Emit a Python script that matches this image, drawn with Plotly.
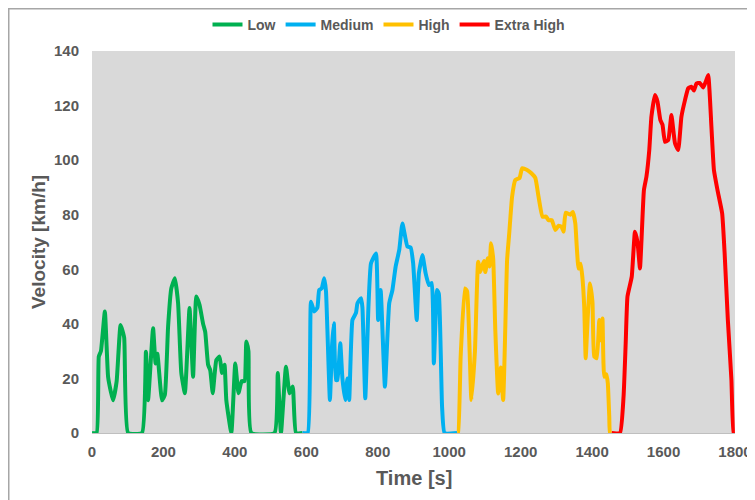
import plotly.graph_objects as go

# Low phase
low_t = [0, 13, 19, 25, 36, 45, 53, 59, 69, 80, 90, 101, 140, 151, 157, 171, 178, 183, 196, 204, 213, 222, 232, 241, 250, 260,
         273, 283, 292, 301, 311, 317, 325, 331, 338, 348, 357, 364, 371, 376, 390, 401, 410, 419, 427, 432, 438, 446, 511,
         520, 529, 543, 553, 562, 571, 589]
low_v = [0, 0, 28, 30, 44.5, 20.6, 15, 12, 19, 39.6, 35, 0, 0, 29.8, 12, 38.4, 25.5, 29, 12, 14, 39, 53, 56.7, 47.6, 22, 14.6,
         45.8, 20.6, 50, 47, 40, 37, 25, 23, 14.6, 26.7, 28, 22, 25, 12, 0, 25.5, 14.6, 19, 19, 33.5, 30, 0, 0,
         22, 0, 24.3, 14.6, 17, 0, 0]

# Medium phase
med_t = [589, 604, 613, 622, 631, 636, 643, 650, 655, 659, 666, 672, 677, 683, 687, 695, 701, 709, 715, 720, 729, 739, 743,
         753, 757, 765, 774, 781, 795, 801, 808, 820, 832, 841, 850, 860, 869, 883, 892, 899, 909, 915, 925, 934, 943, 951,
         957, 966, 971, 980, 987, 1022]
med_v = [0, 0, 48.1, 44.5, 46, 52.4, 53, 56.7, 52, 37.7, 12.1, 32, 40.2, 19.4, 19.4, 32.9, 20, 12.1, 20, 12.1, 41.4, 44, 47.5,
         49.4, 46, 12.7, 46.7, 62.2, 65.8, 41.4, 52.4, 17, 47.5, 52.4, 61, 67, 76.8, 68.3, 68, 62.2, 41.4, 58.5, 65.2, 58.5,
         54.2, 55, 25.5, 52.4, 51, 9.6, 0, 0]

# High phase
high_t = [1022, 1025, 1032, 1044, 1050, 1057, 1062, 1072, 1081, 1087, 1097, 1101, 1108, 1113, 1117, 1123, 1129, 1137, 1144,
          1151, 1162, 1168, 1176, 1185, 1197, 1204, 1218, 1230, 1241, 1250, 1261, 1271, 1278, 1287, 1297, 1306, 1315, 1320,
          1326, 1339, 1346, 1353, 1357, 1362, 1368, 1373, 1378, 1382, 1388, 1394, 1401, 1406, 1413, 1420, 1424, 1429, 1434,
          1440, 1444, 1448, 1450, 1455]
high_v = [0, 0, 28, 53, 52, 30.4, 12.1, 30, 62.8, 59, 63, 59, 64, 61, 69.5, 64, 37.7, 14.5, 24,
          12.1, 63.4, 73.2, 86.6, 92.7, 93.5, 97, 96.4, 95.2, 93.5, 86.6, 79.3, 79.3, 78, 78, 74.4, 76, 75.5, 73.8,
          80.7, 80, 81, 76.8, 68.3, 60.3, 62, 56.7, 46, 27.4, 43, 54.8, 48, 28, 27.4, 41.4, 34, 42, 20.6,
          21.5, 18.2, 6, 0, 0]

# Extra high phase
xhigh_t = [1455, 1478, 1488, 1494, 1499, 1511, 1520, 1527, 1534, 1538, 1545, 1552, 1560, 1566, 1576, 1583, 1591, 1597, 1604,
           1613, 1622, 1632, 1641, 1650, 1660, 1669, 1678, 1685, 1692, 1701, 1711, 1718, 1725, 1734, 1741, 1751, 1764,
           1771, 1780, 1790, 1796, 1800]
xhigh_v = [0, 0, 13.3, 32.9, 50, 57.3, 73.8, 70, 60.3, 70, 89, 93.9, 103.7, 115.9, 123.9, 121.5, 114.7, 113, 106.7,
           107.3, 116.5, 106.2, 103.7, 115.9, 122, 126.3, 126.9, 125.5, 128.1, 128.3, 126.6, 128.7, 131.2, 112.2, 96.4, 89, 80.5,
           65.8, 41.4, 19.4, 0, 0]

series = [("Low", low_t, low_v, "#00B050"),
          ("Medium", med_t, med_v, "#00B0F0"),
          ("High", high_t, high_v, "#FFC000"),
          ("Extra High", xhigh_t, xhigh_v, "#FF0000")]

x_ticks = [0, 200, 400, 600, 800, 1000, 1200, 1400, 1600, 1800]
y_ticks = [0, 20, 40, 60, 80, 100, 120, 140]

FONT = "Liberation Sans, Arial, sans-serif"
GREY = "#595959"

W, H = 747, 492
ML, MT = 84, 43
PW, PH = 643, 382
MR, MB = W - ML - PW, H - MT - PH

fig = go.Figure()
for name, t, v, c in series:
    fig.add_trace(go.Scatter(x=t, y=v, mode="lines", name=f"<b>{name}</b>",
                             line=dict(color=c, width=4, shape="spline", smoothing=0.4)))

fig.update_layout(
    template="none",
    width=W, height=H,
    margin=dict(l=ML, r=MR, t=MT, b=MB, autoexpand=False),
    paper_bgcolor="white",
    plot_bgcolor="#D9D9D9",
    font=dict(family=FONT, color=GREY, size=13),
    showlegend=True,
    legend=dict(orientation="h", x=381 / W, xanchor="center", xref="container",
                y=1 - 17 / H, yanchor="middle", yref="container",
                font=dict(size=14, family=FONT, color=GREY), bgcolor="rgba(0,0,0,0)",
                itemwidth=30, tracegroupgap=0),
    xaxis=dict(range=[0, 1800], tickvals=x_ticks, ticktext=[f"<b>{v}</b>" for v in x_ticks],
               showgrid=False, zeroline=False, showline=True, linecolor="#BFBFBF", linewidth=1,
               ticks="", automargin=False, ticklabelstandoff=5, tickfont=dict(size=15, color=GREY)),
    yaxis=dict(range=[0, 140], tickvals=y_ticks, ticktext=[f"<b>{v}</b>" for v in y_ticks],
               showgrid=False, zeroline=False, showline=False, ticks="", automargin=False,
               ticklabelstandoff=12, tickfont=dict(size=15, color=GREY)),
    annotations=[
        dict(text="<b>Time [s]</b>", xref="paper", yref="paper", x=0.5, y=-45 / PH,
             xanchor="center", yanchor="middle", showarrow=False, font=dict(size=20, color=GREY)),
        dict(text="<b>Velocity [km/h]</b>", xref="paper", yref="paper", x=-54 / PW, y=0.5,
             xanchor="center", yanchor="middle", showarrow=False, textangle=-90,
             font=dict(size=19, color=GREY)),
    ],
)

# chart frame along the figure edges
fig.add_shape(type="rect", xref="paper", yref="paper",
              x0=-(ML - 0.75) / PW, x1=1 + (MR + 20) / PW, y0=-(MB + 20) / PH, y1=1 + (MT - 0.75) / PH,
              line=dict(color="#A6A6A6", width=1.5), fillcolor="rgba(0,0,0,0)", layer="below")

fig.write_html("out.html")
